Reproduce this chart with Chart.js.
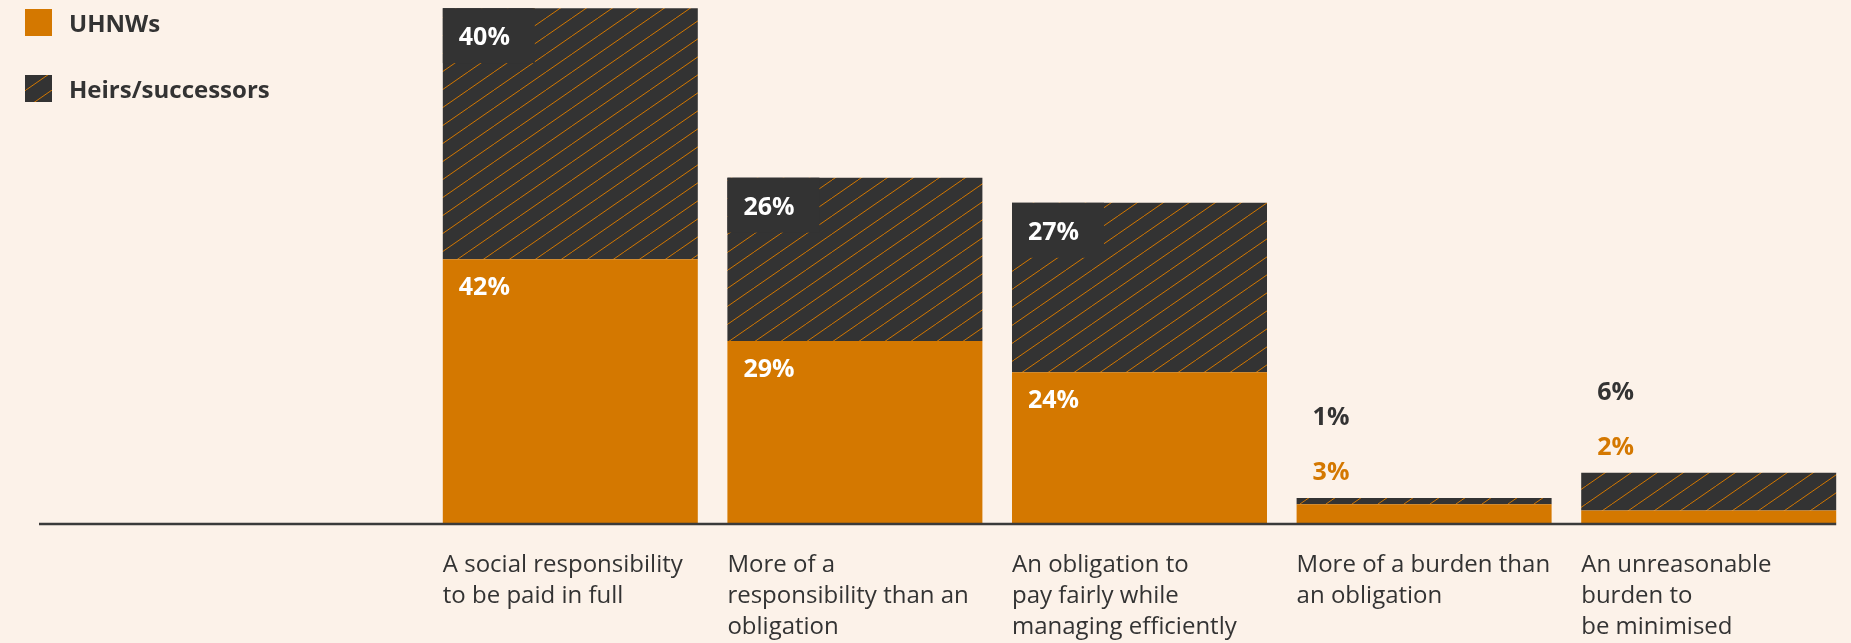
<!DOCTYPE html>
<html lang="en">
<head>
    <meta charset="UTF-8">
    <title>Attitudes to tax</title>
    <script src="https://cdn.jsdelivr.net/npm/chart.js"></script>
    <style>
        body {
            margin: 0;
            background: #fcf2e9;
            font-family: "Open Sans", Arial, sans-serif;
        }
        #wrap {
            position: relative;
            width: 1851px;
            height: 643px;
        }
    </style>
</head>
<body>
    <div id="wrap">
        <canvas id="taxChart"></canvas>
    </div>

    <script>
        const categories = [
            ['A social responsibility', 'to be paid in full'],
            ['More of a', 'responsibility than an', 'obligation'],
            ['An obligation to', 'pay fairly while', 'managing efficiently'],
            ['More of a burden than', 'an obligation'],
            ['An unreasonable', 'burden to', 'be minimised']
        ];
        const uhnwValues = [42, 29, 24, 3, 2];
        const heirValues = [40, 26, 27, 1, 6];
        const seriesNames = ['UHNWs', 'Heirs/successors'];

        const ORANGE = '#d47800';
        const DARK = '#333333';
        const TEXT = '#333333';

        // diagonal orange lines on dark fill
        function makeHatch() {
            const w = 26, h = 18;
            const c = document.createElement('canvas');
            c.width = w;
            c.height = h;
            const g = c.getContext('2d');
            g.fillStyle = DARK;
            g.fillRect(0, 0, w, h);
            g.strokeStyle = ORANGE;
            g.lineWidth = 1;
            for (let k = -1; k <= 1; k++) {
                g.beginPath();
                g.moveTo(k * w, h);
                g.lineTo(k * w + w, 0);
                g.stroke();
            }
            return g.createPattern(c, 'repeat');
        }

        const ctx = document.getElementById('taxChart').getContext('2d');
        const hatch = makeHatch();

        const baseline = {
            id: 'baseline',
            afterDatasetsDraw(chart) {
                const c = chart.ctx;
                const y = chart.scales.y.getPixelForValue(0);
                const bars = chart.getDatasetMeta(0).data;
                const last = bars[bars.length - 1];
                c.save();
                c.strokeStyle = '#3a3a3a';
                c.lineWidth = 2.5;
                c.beginPath();
                c.moveTo(39, y + 1);
                c.lineTo(last.x + last.width / 2, y + 1);
                c.stroke();
                c.restore();
            }
        };

        const valueLabels = {
            id: 'valueLabels',
            afterDatasetsDraw(chart) {
                const c = chart.ctx;
                const lower = chart.getDatasetMeta(0).data;
                const upper = chart.getDatasetMeta(1).data;
                c.save();
                c.font = '700 25px "Open Sans"';
                c.textBaseline = 'alphabetic';
                c.textAlign = 'left';
                lower.forEach((bar, i) => {
                    const left = bar.x - bar.width / 2;
                    const top = upper[i];
                    const small = heirValues[i] < 10 || uhnwValues[i] < 10;
                    if (!small) {
                        // dark tab behind the upper label
                        c.fillStyle = DARK;
                        c.fillRect(left, top.y, 92, 55);
                        c.fillStyle = '#ffffff';
                        c.fillText(heirValues[i] + '%', left + 16, top.y + 37);
                        c.fillText(uhnwValues[i] + '%', left + 16, bar.y + 36);
                    } else {
                        c.fillStyle = ORANGE;
                        c.fillText(uhnwValues[i] + '%', left + 16, top.y - 18);
                        c.fillStyle = TEXT;
                        c.fillText(heirValues[i] + '%', left + 16, top.y - 73);
                    }
                });
                c.restore();
            }
        };

        const categoryLabels = {
            id: 'categoryLabels',
            afterDraw(chart) {
                const c = chart.ctx;
                const bars = chart.getDatasetMeta(0).data;
                c.save();
                c.font = '400 24px "Open Sans"';
                c.fillStyle = TEXT;
                c.textAlign = 'left';
                c.textBaseline = 'alphabetic';
                bars.forEach((bar, i) => {
                    const left = bar.x - bar.width / 2;
                    categories[i].forEach((line, j) => {
                        c.fillText(line, left, 572 + j * 31);
                    });
                });
                c.restore();
            }
        };

        const sideLegend = {
            id: 'sideLegend',
            afterDraw(chart) {
                const c = chart.ctx;
                c.save();
                c.fillStyle = ORANGE;
                c.fillRect(25, 9, 27, 27);
                c.fillStyle = hatch;
                c.fillRect(25, 75, 27, 27);
                c.font = '700 24px "Open Sans"';
                c.fillStyle = TEXT;
                c.textAlign = 'left';
                c.textBaseline = 'alphabetic';
                c.fillText(seriesNames[0], 69, 32);
                c.fillText(seriesNames[1], 69, 98);
                c.restore();
            }
        };

        new Chart(ctx, {
            type: 'bar',
            data: {
                labels: categories,
                datasets: [
                    {
                        label: seriesNames[0],
                        data: uhnwValues,
                        backgroundColor: ORANGE,
                        borderWidth: 0,
                        barPercentage: 0.896,
                        categoryPercentage: 1
                    },
                    {
                        label: seriesNames[1],
                        data: heirValues,
                        backgroundColor: hatch,
                        borderWidth: 0,
                        barPercentage: 0.896,
                        categoryPercentage: 1
                    }
                ]
            },
            options: {
                responsive: true,
                maintainAspectRatio: false,
                animation: false,
                layout: {
                    padding: { left: 428, right: 0, top: 5, bottom: 120 }
                },
                scales: {
                    x: { stacked: true, display: false },
                    y: { stacked: true, display: false, min: 0, max: 82.5 }
                },
                plugins: {
                    legend: { display: false },
                    tooltip: { enabled: false }
                }
            },
            plugins: [baseline, valueLabels, categoryLabels, sideLegend]
        });
    </script>
</body>
</html>
